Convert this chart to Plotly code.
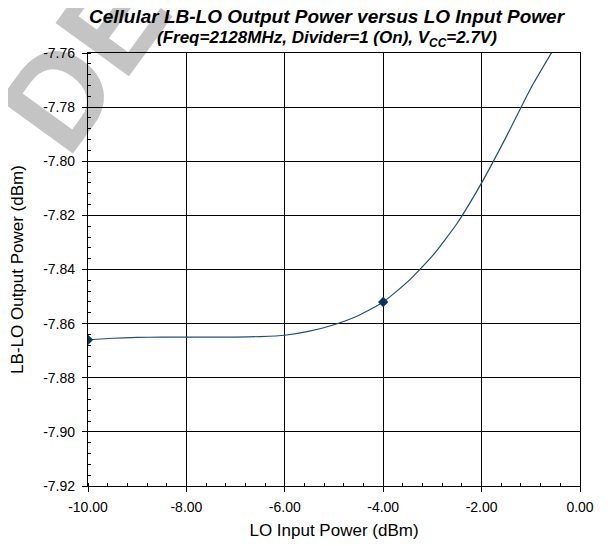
import plotly.graph_objects as go

# LO input power sweep (dBm) and LB-LO output power (dBm)
lo_in = [-10.0, -9.5, -9.0, -8.5, -8.0, -7.5, -7.0, -6.5, -6.0, -5.5,
         -5.0, -4.5, -4.0, -3.5, -3.0, -2.5, -2.0, -1.5, -1.0, -0.5]
lb_out = [-7.8660, -7.8654, -7.8651, -7.8650, -7.8650, -7.8650, -7.8650, -7.8648, -7.8643, -7.8628,
          -7.8604, -7.8570, -7.8520, -7.8445, -7.8350, -7.8230, -7.8080, -7.7910, -7.7730, -7.7575]

# measured points shown with markers
mark_x = [-10.0, -4.0]
mark_y = [-7.8660, -7.8520]

x_ticks = [-10, -8, -6, -4, -2, 0]
x_labels = ["-10.00", "-8.00", "-6.00", "-4.00", "-2.00", "0.00"]
y_ticks = [-7.92, -7.90, -7.88, -7.86, -7.84, -7.82, -7.80, -7.78, -7.76]
y_labels = ["-7.92", "-7.90", "-7.88", "-7.86", "-7.84", "-7.82", "-7.80", "-7.78", "-7.76"]

FONT = "Arial, Liberation Sans, sans-serif"

fig = go.Figure()
fig.add_trace(go.Scatter(x=lo_in, y=lb_out, mode="lines",
                         line=dict(color="#1f4e80", width=1.2, shape="spline", smoothing=0.5),
                         showlegend=False, hoverinfo="skip"))
fig.add_trace(go.Scatter(x=mark_x, y=mark_y, mode="markers",
                         marker=dict(symbol="diamond", size=8, color="#0b3561"),
                         showlegend=False))

axis_common = dict(showline=True, linecolor="black", linewidth=1.3, mirror=True,
                   showgrid=True, gridcolor="black", gridwidth=1, automargin=False,
                   zeroline=False, ticks="outside", ticklen=5, tickcolor="black",
                   tickfont=dict(family=FONT, size=14, color="black"))

fig.update_xaxes(range=[-10, 0], tickvals=x_ticks, ticktext=x_labels,
                 minor=dict(dtick=0.4, tick0=-10, ticks="inside", ticklen=3, tickcolor="black", showgrid=False),
                 title=dict(text="LO Input Power (dBm)", font=dict(family=FONT, size=17, color="black"), standoff=10),
                 ticklabelstandoff=3,
                 **axis_common)
fig.update_yaxes(range=[-7.92, -7.76], tickvals=y_ticks, ticktext=y_labels,
                 minor=dict(dtick=0.004, tick0=-7.92, ticks="inside", ticklen=3, tickcolor="black", showgrid=False),
                 title=dict(text="LB-LO Output Power (dBm)", font=dict(family=FONT, size=17, color="black")),
                 ticklabelstandoff=4,
                 **axis_common)

# title lines
fig.add_annotation(text="<b><i>Cellular LB-LO Output Power versus LO Input Power</i></b>",
                   xref="paper", yref="paper", x=0.486, y=1, yanchor="bottom", yshift=24,
                   showarrow=False, font=dict(family=FONT, size=19, color="black"))
fig.add_annotation(text="<b><i>(Freq=2128MHz, Divider=1 (On), V<sub>CC</sub>=2.7V)</i></b>",
                   xref="paper", yref="paper", x=0.486, y=1, yanchor="bottom", yshift=1,
                   showarrow=False, font=dict(family=FONT, size=17, color="black"))

# grey watermark behind everything
fig.add_shape(type="rect", xref="paper", yref="paper",
              x0=-0.033, x1=-0.023, y0=0.997, y1=1.007,
              line=dict(width=0), fillcolor="rgba(0,0,0,0)", layer="below",
              label=dict(text="<b>DE</b>", textangle=-54, padding=0,
                         font=dict(family=FONT, size=132, color="#c4c4c4")))

# page body adds an 8px offset, so the figure is 8px smaller than the window
fig.update_layout(width=600, height=538,
                  margin=dict(l=80, r=28, t=45, b=60),
                  paper_bgcolor="white", plot_bgcolor="white",
                  font=dict(family=FONT, color="black"))

fig.write_html("out.html")
